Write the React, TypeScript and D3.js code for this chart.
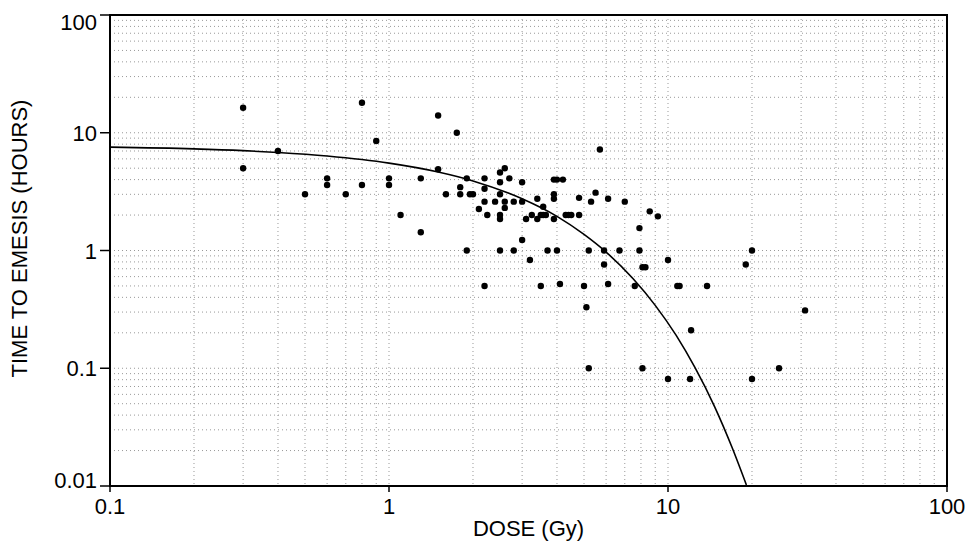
import React from 'react'
import * as d3 from 'd3'

// dose (Gy) / time to emesis (hours)
const doses = [
  0.3, 0.3, 0.4, 0.5, 0.6, 0.6, 0.7, 0.8, 0.8, 0.9,
  1.0, 1.0, 1.1, 1.3, 1.3, 1.5, 1.5, 1.6, 1.75, 1.8, 1.8, 1.9, 1.9, 1.95, 2.0,
  2.1, 2.2, 2.2, 2.2, 2.2, 2.25, 2.4, 2.5, 2.5, 2.5, 2.5, 2.5, 2.5, 2.6, 2.6, 2.6, 2.7, 2.8, 2.8,
  3.0, 3.0, 3.0, 3.1, 3.2, 3.25, 3.4, 3.4, 3.5, 3.57, 3.65, 3.57, 3.5, 3.7,
  3.9, 4.0, 4.2, 3.9, 3.9, 3.9, 4.0, 4.1, 4.3, 4.4, 4.5, 4.8, 4.8, 5.0, 5.1, 5.2, 5.2, 5.5, 5.3, 5.7,
  5.9, 5.9, 6.1, 6.1, 6.7, 7.0, 7.6, 7.9, 7.9, 8.1, 8.3, 8.6, 9.2, 10, 10.8, 11.0, 8.1, 10, 12, 12.1,
  13.8, 19, 20, 20, 25, 31,
]
const hours = [
  16.3, 5.0, 7.0, 3.0, 4.1, 3.6, 3.0, 18, 3.6, 8.5,
  4.1, 3.6, 2.0, 4.1, 1.43, 14, 4.9, 3.0, 10, 3.45, 3.0, 4.1, 1.0, 3.0, 3.0,
  2.25, 4.1, 3.35, 2.6, 0.5, 2.0, 2.6, 4.6, 3.8, 3.0, 2.0, 1.85, 1.0, 5.0, 2.6, 2.3, 4.1, 2.6, 1.0,
  3.8, 2.6, 1.23, 1.85, 0.83, 2.0, 2.75, 1.85, 2.0, 2.0, 2.0, 2.35, 0.5, 1.0,
  4.0, 4.0, 4.0, 3.0, 2.75, 1.85, 1.0, 0.52, 2.0, 2.0, 2.0, 2.0, 2.8, 0.5, 0.33, 1.0, 0.1, 3.1, 2.6, 7.2,
  1.0, 0.76, 0.52, 2.75, 1.0, 2.6, 0.5, 1.55, 1.0, 0.72, 0.72, 2.15, 1.95, 0.83, 0.5, 0.5, 0.1, 0.081, 0.081, 0.21,
  0.5, 0.76, 1.0, 0.081, 0.1, 0.31,
]

// fitted curve
const curveDose = [0.1, 0.2, 0.3, 0.4, 0.6, 0.8, 1.0, 1.5, 2.0, 3.0, 4.0, 5.0, 6.0, 7.5, 9.0, 10.7, 12.5, 14.7, 17, 19.1]
const curveHours = [7.55, 7.3, 7.05, 6.8, 6.35, 5.92, 5.52, 4.64, 3.9, 2.75, 1.95, 1.37, 0.97, 0.575, 0.342, 0.19, 0.101, 0.047, 0.021, 0.0102]

const xTicks = [0.1, 1, 10, 100]
const xTickLabels = ['0.1', '1', '10', '100']
const yTicks = [0.01, 0.1, 1, 10, 100]
const yTickLabels = ['0.01', '0.1', '1', '10', '100']

const W = 970
const H = 544
const margin = { top: 15, right: 23, bottom: 58, left: 110 }
const font = 'Arial, "Liberation Sans", Helvetica, sans-serif'

export default function App() {
  const x = d3.scaleLog().domain([0.1, 100]).range([margin.left, W - margin.right])
  const y = d3.scaleLog().domain([0.01, 100]).range([H - margin.bottom, margin.top])
  const [x0, x1] = x.range()
  const [y0, y1] = y.range()

  // grid at every 1..9 of each decade
  const gridX: number[] = []
  for (let e = -1; e < 2; e++) for (let m = 1; m <= 9; m++) gridX.push(m * Math.pow(10, e))
  const gridY: number[] = []
  for (let e = -2; e < 2; e++) for (let m = 1; m <= 9; m++) gridY.push(m * Math.pow(10, e))

  const line = d3
    .line<number>()
    .x((i) => x(curveDose[i]))
    .y((i) => y(curveHours[i]))
    .curve(d3.curveMonotoneX)

  return (
    <svg width={W} height={H} style={{ position: 'absolute', left: 0, top: 0, background: '#fff' }}>
      <g stroke="#999" strokeWidth={1} strokeDasharray="1,3">
        {gridX.slice(1).map((v) => (
          <line key={'gx' + v} x1={x(v)} x2={x(v)} y1={y1} y2={y0} />
        ))}
        {gridY.slice(1).map((v) => (
          <line key={'gy' + v} x1={x0} x2={x1} y1={y(v)} y2={y(v)} />
        ))}
      </g>

      <path d={line(d3.range(curveDose.length)) || ''} fill="none" stroke="#000" strokeWidth={1.6} />

      <g fill="#000">
        {doses.map((d, i) => (
          <circle key={i} cx={x(d)} cy={y(hours[i])} r={3.2} />
        ))}
      </g>

      <rect x={x0} y={y1} width={x1 - x0} height={y0 - y1} fill="none" stroke="#000" strokeWidth={2} />

      <g stroke="#000" strokeWidth={1.5}>
        {yTicks.map((v) => (
          <line key={'yt' + v} x1={x0 - 10} x2={x0} y1={y(v)} y2={y(v)} />
        ))}
        {xTicks.map((v) => (
          <line key={'xt' + v} x1={x(v)} x2={x(v)} y1={y0} y2={y0 + 6} />
        ))}
      </g>

      <g fontFamily={font} fontSize={22} fill="#000">
        {yTicks.map((v, i) => {
          let off = 8
          if (i === yTicks.length - 1) off = 15
          if (i === 0) off = 2
          return (
            <text key={'yl' + v} x={x0 - 13} y={y(v) + off} textAnchor="end">
              {yTickLabels[i]}
            </text>
          )
        })}
        {xTicks.map((v, i) => (
          <text key={'xl' + v} x={x(v)} y={y0 + 28} textAnchor="middle">
            {xTickLabels[i]}
          </text>
        ))}
        <text x={(x0 + x1) / 2} y={H - 8} textAnchor="middle">
          DOSE (Gy)
        </text>
        <text transform={`translate(27, ${(95 + 382) / 2}) rotate(-90)`} textAnchor="middle">
          TIME TO EMESIS (HOURS)
        </text>
      </g>
    </svg>
  )
}
